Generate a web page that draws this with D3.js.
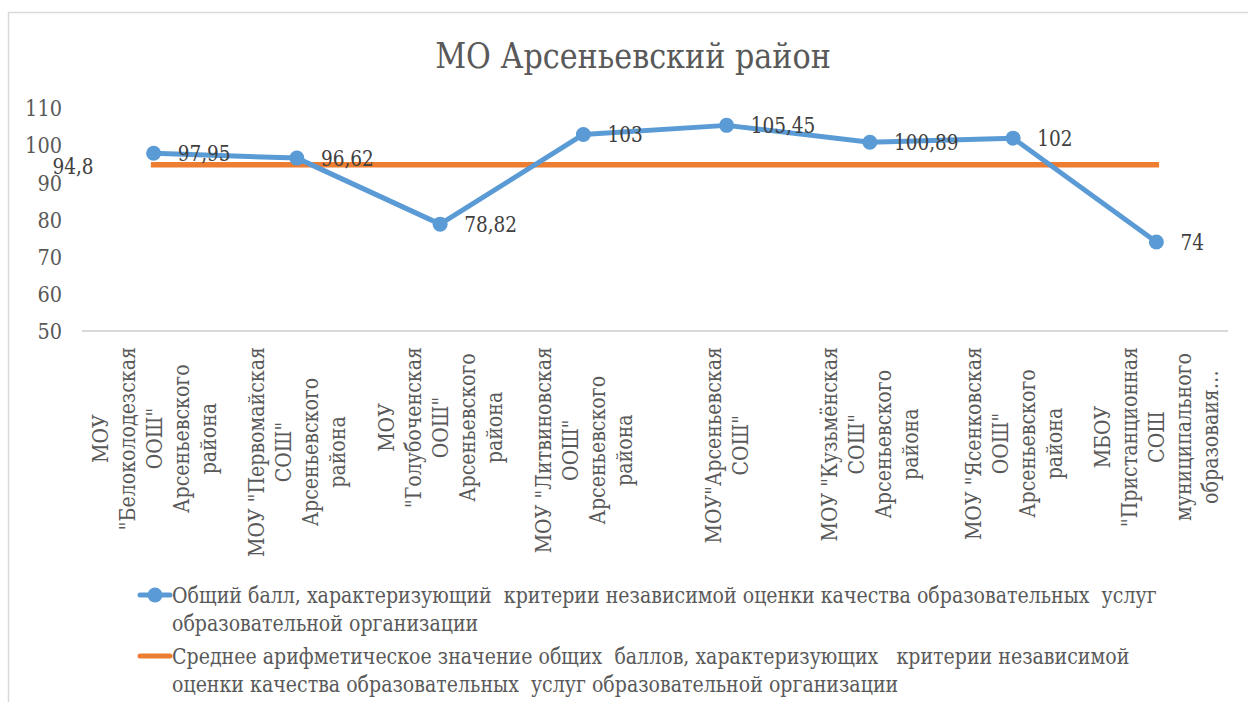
<!DOCTYPE html>
<html>
<head>
<meta charset="utf-8">
<script src="https://cdn.jsdelivr.net/npm/d3@7"></script>
<style>
  body { margin: 0; background: #fff; }
  svg text { white-space: pre; }
</style>
</head>
<body>
<script>
// data
var categories = [
  ["МОУ", "\"Белоколодезская", "ООШ\"", "Арсеньевского", "района"],
  ["МОУ \"Первомайская", "СОШ\"", "Арсеньевского", "района"],
  ["МОУ", "\"Голубоченская", "ООШ\"", "Арсеньевского", "района"],
  ["МОУ \"Литвиновская", "ООШ\"", "Арсеньевского", "района"],
  ["МОУ\"Арсеньевская", "СОШ\""],
  ["МОУ \"Кузьмёнская", "СОШ\"", "Арсеньевского", "района"],
  ["МОУ \"Ясенковская", "ООШ\"", "Арсеньевского", "района"],
  ["МБОУ", "\"Пристанционная", "СОШ", "муниципального", "образоваия…"]
];
var scores = [97.95, 96.62, 78.82, 103, 105.45, 100.89, 102, 74];
var scoreLabels = ["97,95", "96,62", "78,82", "103", "105,45", "100,89", "102", "74"];
var averages = [94.8, 94.8, 94.8, 94.8, 94.8, 94.8, 94.8, 94.8];
var averageLabel = "94,8";
var yTicks = [50, 60, 70, 80, 90, 100, 110];
var title = "МО Арсеньевский район";
var legendLines = [
  ["Общий балл, характеризующий  критерии независимой оценки качества образовательных  услуг",
   "образовательной организации"],
  ["Среднее арифметическое значение общих  баллов, характеризующих   критерии независимой",
   "оценки качества образовательных  услуг образовательной организации"]
];

var W = 1248, H = 702;
var blue = "#5B9BD5", orange = "#ED7D31", grey = "#595959";
var font = "'DejaVu Serif', serif";
var squeeze = 0.84; // DejaVu Serif is wider than the Times face in the original

function narrow(sel) {
  sel.each(function () {
    var len = this.getComputedTextLength();
    d3.select(this)
      .attr("textLength", len * squeeze)
      .attr("lengthAdjust", "spacingAndGlyphs");
  });
}

var svg = d3.select("body").append("svg")
  .attr("width", W)
  .attr("height", H)
  .attr("font-family", font);

// chart border
svg.append("rect")
  .attr("x", 8.5).attr("y", 12.5)
  .attr("width", 1400).attr("height", 900)
  .attr("fill", "none").attr("stroke", "#d9d9d9").attr("stroke-width", 1.5);

// title
svg.append("text")
  .attr("x", 633).attr("y", 68)
  .attr("text-anchor", "middle")
  .attr("font-size", 36)
  .attr("fill", grey)
  .text(title)
  .call(narrow);

// scales
var x = d3.scaleBand().domain(d3.range(categories.length)).range([82, 1228]);
var cx = function (i) { return x(i) + x.bandwidth() / 2; };
var y = d3.scaleLinear().domain([50, 110]).range([331, 108.5]);

// y axis labels (no line)
var yAxis = svg.append("g")
  .attr("transform", "translate(82,0)")
  .call(d3.axisLeft(y).tickValues(yTicks).tickSize(0).tickPadding(20));
yAxis.attr("font-family", font);
yAxis.select(".domain").remove();
yAxis.selectAll("text")
  .attr("font-size", 23)
  .attr("fill", grey)
  .call(narrow);

// x axis line
svg.append("line")
  .attr("x1", 82).attr("x2", 1228)
  .attr("y1", y(50)).attr("y2", y(50))
  .attr("stroke", "#d9d9d9").attr("stroke-width", 2);

// category labels, rotated, lines centred inside each block
var fs = 22, lh = 27;
categories.forEach(function (lines, i) {
  var g = svg.append("g")
    .attr("transform", "translate(" + cx(i) + ",347) rotate(-90)");
  var texts = g.selectAll("text").data(lines).enter().append("text")
    .attr("font-size", 22.6)
    .attr("fill", grey)
    .attr("text-anchor", "middle")
    .attr("y", function (d, j) { return (j - (lines.length - 1) / 2) * lh + 8; })
    .text(function (d) { return d; });
  var maxLen = d3.max(texts.nodes(), function (n) { return n.getComputedTextLength(); });
  texts.call(narrow).attr("x", -maxLen * squeeze / 2);
});

// average line
var line = d3.line().x(function (d, i) { return cx(i); }).y(function (d) { return y(d); });
svg.append("path")
  .datum(averages)
  .attr("d", line)
  .attr("fill", "none")
  .attr("stroke", orange)
  .attr("stroke-width", 5.5)
  .attr("stroke-linecap", "square");

// score line + markers
svg.append("path")
  .datum(scores)
  .attr("d", line)
  .attr("fill", "none")
  .attr("stroke", blue)
  .attr("stroke-width", 5)
  .attr("stroke-linejoin", "round");
svg.selectAll(".dot").data(scores).enter().append("circle")
  .attr("cx", function (d, i) { return cx(i); })
  .attr("cy", function (d) { return y(d); })
  .attr("r", 7.5)
  .attr("fill", blue);

// data labels
svg.selectAll(".lbl").data(scores).enter().append("text")
  .attr("x", function (d, i) { return cx(i) + 24; })
  .attr("y", function (d) { return y(d) + 8; })
  .attr("font-size", fs)
  .attr("fill", "#404040")
  .text(function (d, i) { return scoreLabels[i]; })
  .call(narrow);
svg.append("text")
  .attr("x", cx(0) - 60)
  .attr("y", y(averages[0]) + 9)
  .attr("text-anchor", "end")
  .attr("font-size", fs)
  .attr("fill", "#404040")
  .text(averageLabel)
  .call(narrow);

// legend
var legend = svg.append("g");
var legendY = [595, 656];
[blue, orange].forEach(function (c, i) {
  var ly = legendY[i];
  legend.append("line")
    .attr("x1", 140).attr("x2", 170)
    .attr("y1", ly).attr("y2", ly)
    .attr("stroke", c).attr("stroke-width", 5)
    .attr("stroke-linecap", "round");
  if (i === 0) {
    legend.append("circle").attr("cx", 155).attr("cy", ly).attr("r", 7.5).attr("fill", c);
  }
  legendLines[i].forEach(function (t, j) {
    legend.append("text")
      .attr("x", 172).attr("y", ly + 8 + j * 28)
      .attr("font-size", 22.6)
      .attr("fill", grey)
      .text(t)
      .call(narrow);
  });
});
</script>
</body>
</html>
